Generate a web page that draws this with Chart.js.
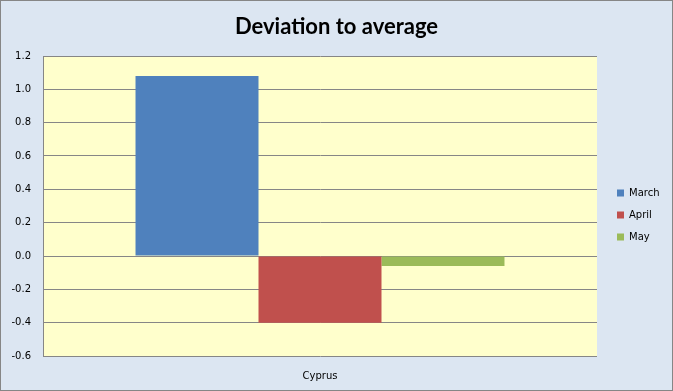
<!DOCTYPE html>
<html>
<head>
<meta charset="utf-8">
<script src="https://cdn.jsdelivr.net/npm/chart.js@4/dist/chart.umd.min.js"></script>
<style>
  html, body { margin: 0; padding: 0; background: #dce6f2; }
  canvas { display: block; }
</style>
</head>
<body>
<canvas id="chart" width="673" height="391"></canvas>
<script>
"use strict";

// data
const categories = ['Cyprus'];
const seriesNames = ['March', 'April', 'May'];
const marchValues = [1.08];
const aprilValues = [-0.40];
const mayValues = [-0.06];
const seriesColors = ['#4f81bd', '#c0504d', '#9bbb59'];

const tickFont = { family: 'DejaVu Sans', size: 10 };

// background, plot area fill and outer frame
const chartFrame = {
    id: 'chartFrame',
    beforeDraw(chart) {
        const ctx = chart.ctx, a = chart.chartArea;
        ctx.save();
        ctx.fillStyle = '#dce6f2';
        ctx.fillRect(0, 0, chart.width, chart.height);
        ctx.fillStyle = '#ffffcc';
        ctx.fillRect(a.left, a.top, a.right - a.left, a.bottom - a.top);
        ctx.strokeStyle = '#868686';
        ctx.lineWidth = 1;
        ctx.strokeRect(0.5, 0.5, chart.width - 1, chart.height - 1);
        ctx.restore();
    }
};

// keep the legend narrow and put it where Excel puts it
const legendPlace = {
    id: 'legendPlace',
    beforeLayout(chart) {
        const lg = chart.legend;
        if (lg && !lg._fitPatched) {
            const fit = lg.fit;
            lg.fit = function () { fit.call(this); this.width = 76; };
            lg._fitPatched = true;
        }
    },
    afterLayout(chart) {
        const lg = chart.legend;
        lg.left = 605;
        lg.right = chart.width;
        lg.top = 176;
        lg.bottom = chart.height;
    }
};

const datasets = [marchValues, aprilValues, mayValues].map((vals, i) => ({
    label: seriesNames[i],
    data: vals,
    backgroundColor: seriesColors[i],
    borderWidth: 0,
    barPercentage: 1.0,
    categoryPercentage: 0.666
}));

new Chart(document.getElementById('chart').getContext('2d'), {
    type: 'bar',
    data: { labels: categories, datasets: datasets },
    options: {
        responsive: false,
        animation: false,
        devicePixelRatio: 1,
        layout: { padding: 0 },
        plugins: {
            title: {
                display: true,
                text: 'Deviation to average',
                color: '#000',
                font: { family: 'Lato', size: 22, weight: 'bold', lineHeight: 1.2 },
                padding: { top: 13.8, bottom: 15.8 }
            },
            legend: {
                position: 'right',
                align: 'start',
                labels: {
                    color: '#000',
                    font: tickFont,
                    boxWidth: 7,
                    boxHeight: 7,
                    padding: 12
                }
            },
            tooltip: { enabled: false }
        },
        scales: {
            x: {
                grid: { display: false, drawTicks: false },
                border: { display: false },
                ticks: { color: '#000', font: tickFont, padding: 14 },
                afterFit(scale) { scale.height = 35; }
            },
            y: {
                min: -0.6,
                max: 1.2,
                grid: { color: '#868686', lineWidth: 1, drawTicks: false },
                border: { display: true, color: '#868686', width: 1 },
                ticks: {
                    stepSize: 0.2,
                    color: '#000',
                    font: tickFont,
                    padding: 12,
                    callback: v => (Math.abs(v) < 1e-9 ? 0 : v).toFixed(1)
                },
                afterFit(scale) { scale.width = 43; }
            }
        }
    },
    plugins: [chartFrame, legendPlace]
});
</script>
</body>
</html>
